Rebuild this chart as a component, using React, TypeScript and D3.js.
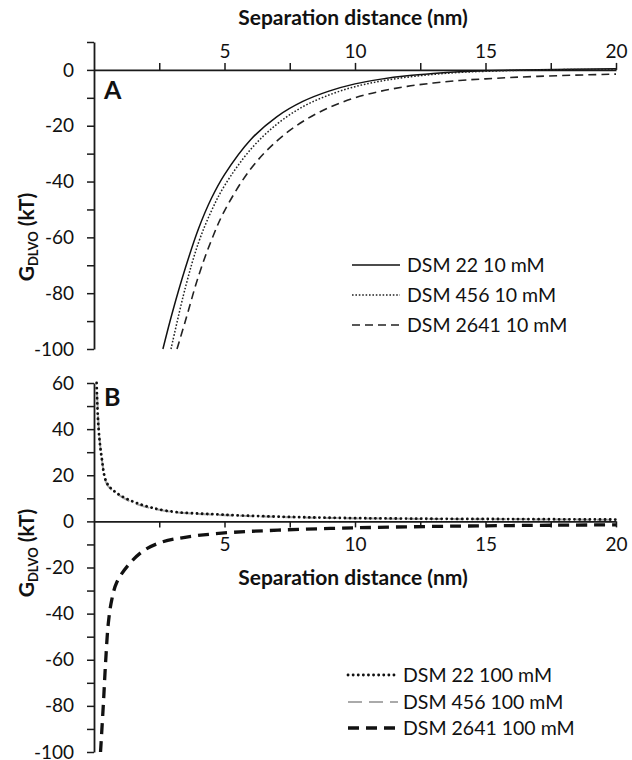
import * as d3 from "d3";
import { useEffect, useRef } from "react";

// panel A, 10 mM
const a22X = [2.64, 3, 3.5, 4, 4.5, 5, 6, 7, 8, 9, 10, 11, 12, 13, 14, 15, 17, 20];
const a22Y = [-100, -87, -71, -57, -46, -37.5, -25, -16.8, -11.3, -7.6, -5, -3.3, -2.1, -1.3, -0.7, -0.3, 0.1, 0.4];
const a456X = [2.95, 3.5, 4, 4.5, 5, 6, 7, 8, 9, 10, 11, 12, 13, 14, 15, 17, 20];
const a456Y = [-100, -78, -62, -50.5, -41.5, -28.5, -19.5, -13.2, -9, -6, -4, -2.6, -1.6, -0.9, -0.5, 0, 0.2];
const a2641X = [3.18, 3.5, 4, 4.5, 5, 6, 7, 8, 9, 10, 11, 12, 13, 14, 15, 17, 20];
const a2641Y = [-100, -90, -74, -61, -50.5, -35.5, -25.5, -18.5, -13.5, -10, -7.6, -5.9, -4.7, -3.8, -3.2, -2.3, -1.5];

// panel B, 100 mM
const b22X = [0.1, 0.17, 0.29, 0.49, 0.87, 1.63, 2.78, 4.95, 8.4, 12, 16, 20];
const b22Y = [60, 41, 28, 16.7, 12.3, 8, 4.6, 2.9, 1.7, 1.2, 1.0, 0.8];
const b456X = [0.12, 0.2, 0.3, 0.5, 0.9, 1.6, 2.8, 5, 8.4, 12, 16, 20];
const b456Y = [55, 38, 27, 16, 11.8, 7.6, 4.4, 2.7, 1.6, 1.1, 0.9, 0.7];
const b2641X = [0.25, 0.36, 0.45, 0.55, 0.68, 0.87, 1.31, 1.89, 2.59, 3.49, 4.89, 7.05, 10, 13, 16, 20];
const b2641Y = [-100, -79, -60, -44, -34, -26.5, -19, -12.8, -9, -6.9, -5.1, -3.8, -2.8, -2.2, -1.8, -1.5];

const legendA = ["DSM 22 10 mM", "DSM 456 10 mM", "DSM 2641 10 mM"];
const legendB = ["DSM 22 100 mM", "DSM 456 100 mM", "DSM 2641 100 mM"];

const xTicks = d3.range(2.5, 20.01, 2.5);
const yTicksA = d3.range(-100, 10.01, 10);
const yTicksB = d3.range(-100, 60.01, 10);

const FONT = "Lato, 'Open Sans', sans-serif";

export default function App() {
  const svgRef = useRef<SVGSVGElement | null>(null);

  useEffect(() => {
    const svg = d3.select(svgRef.current);
    svg.selectAll("*").remove();

    const left = 94;
    const right = 616;
    const x = d3.scaleLinear().domain([0, 20]).range([left, right]);
    const yA = d3.scaleLinear().domain([-100, 10]).range([349, 42]);
    const yB = d3.scaleLinear().domain([-100, 60]).range([752, 383]);

    const styleAxis = (g: any) => {
      g.selectAll("path").attr("stroke", "#1a1a1a").attr("stroke-width", 1.8);
      g.selectAll("line").attr("stroke", "#1a1a1a").attr("stroke-width", 1.5);
      g.selectAll("text").attr("fill", "#111").style("font-family", FONT).style("font-size", "19px");
    };

    const label = (d: number) => (d % 20 === 0 ? String(d) : "");

    // ---- panel A axes
    svg.append("g")
      .attr("transform", `translate(${left},0)`)
      .call(d3.axisLeft(yA).tickValues(yTicksA).tickFormat((d: any) => (d <= 0 ? label(d) : "")).tickSize(7).tickSizeOuter(0).tickPadding(13))
      .call(styleAxis);
    svg.append("g")
      .attr("transform", `translate(0,${yA(0)})`)
      .call(d3.axisTop(x).tickValues(xTicks).tickFormat((d: any) => (d % 5 === 0 ? String(d) : "")).tickSize(7).tickSizeOuter(0).tickPadding(5))
      .call(styleAxis);

    // ---- panel B axes
    svg.append("g")
      .attr("transform", `translate(${left},0)`)
      .call(d3.axisLeft(yB).tickValues(yTicksB).tickFormat((d: any) => label(d)).tickSize(7).tickSizeOuter(0).tickPadding(13))
      .call(styleAxis);
    svg.append("g")
      .attr("transform", `translate(0,${yB(0)})`)
      .call(d3.axisBottom(x).tickValues(xTicks).tickFormat((d: any) => (d % 5 === 0 ? String(d) : "")).tickSize(6).tickSizeOuter(0).tickPadding(10))
      .call(styleAxis);

    // titles
    const bold = (t: any) => t.style("font-family", FONT).style("font-weight", "bold").attr("fill", "#111");
    svg.append("text").attr("x", 353).attr("y", 25).attr("text-anchor", "middle")
      .style("font-size", "21px").text("Separation distance (nm)").call(bold);
    svg.append("text").attr("x", 353).attr("y", 585).attr("text-anchor", "middle")
      .style("font-size", "21px").text("Separation distance (nm)").call(bold);

    [237, 553].forEach((cy) => {
      const t = svg.append("text")
        .attr("transform", `translate(34,${cy}) rotate(-90)`)
        .attr("text-anchor", "middle")
        .style("font-size", "21px")
        .call(bold);
      t.append("tspan").text("G");
      t.append("tspan").attr("dy", 4).style("font-size", "13px").text("DLVO");
      t.append("tspan").attr("dy", -4).text(" (kT)");
    });

    svg.append("text").attr("x", 104).attr("y", 99).style("font-size", "25px").text("A").call(bold);
    svg.append("text").attr("x", 104).attr("y", 406).style("font-size", "25px").text("B").call(bold);

    const line = (ys: any) =>
      d3.line<[number, number]>().x((d) => x(d[0])).y((d) => ys(d[1])).curve(d3.curveCatmullRom.alpha(0.5));

    const seriesA = [
      { xs: a22X, ys: a22Y, color: "#111", width: 1.5, dash: null as string | null, cap: "butt" },
      { xs: a456X, ys: a456Y, color: "#222", width: 1.5, dash: "1.6 1.8", cap: "butt" },
      { xs: a2641X, ys: a2641Y, color: "#222", width: 1.6, dash: "8 5", cap: "butt" },
    ];
    const seriesB = [
      { xs: b456X, ys: b456Y, color: "#aaa", width: 2, dash: "14 7", cap: "butt" },
      { xs: b22X, ys: b22Y, color: "#111", width: 2.8, dash: "0.1 5", cap: "round" },
      { xs: b2641X, ys: b2641Y, color: "#111", width: 3.3, dash: "11 7", cap: "butt" },
    ];

    const drawSeries = (s: any, ys: any) => {
      const pts = s.xs.map((v: number, i: number) => [v, s.ys[i]] as [number, number]);
      svg.append("path")
        .attr("d", line(ys)(pts))
        .attr("fill", "none")
        .attr("stroke", s.color)
        .attr("stroke-width", s.width)
        .attr("stroke-dasharray", s.dash)
        .attr("stroke-linecap", s.cap);
    };
    seriesA.forEach((s) => drawSeries(s, yA));
    seriesB.forEach((s) => drawSeries(s, yB));

    // legends
    const legend = (names: string[], styles: any[], x0: number, x1: number, tx: number, rows: number[]) => {
      names.forEach((n, i) => {
        const s = styles[i];
        svg.append("line").attr("x1", x0).attr("x2", x1).attr("y1", rows[i]).attr("y2", rows[i])
          .attr("stroke", s.color).attr("stroke-width", s.width)
          .attr("stroke-dasharray", s.dash).attr("stroke-linecap", s.cap);
        svg.append("text").attr("x", tx).attr("y", rows[i]).attr("dy", "0.35em")
          .style("font-family", FONT).style("font-size", "19.5px").attr("fill", "#111").text(n);
      });
    };
    legend(legendA, seriesA, 352, 400, 407, [265, 295, 325]);
    legend(legendB, [seriesB[1], seriesB[0], seriesB[2]], 348, 398, 403, [675, 702, 728]);
  }, []);

  return (
    <svg
      ref={svgRef}
      width={632}
      height={760}
      style={{ position: "absolute", left: 0, top: 0, background: "#fff" }}
    />
  );
}
